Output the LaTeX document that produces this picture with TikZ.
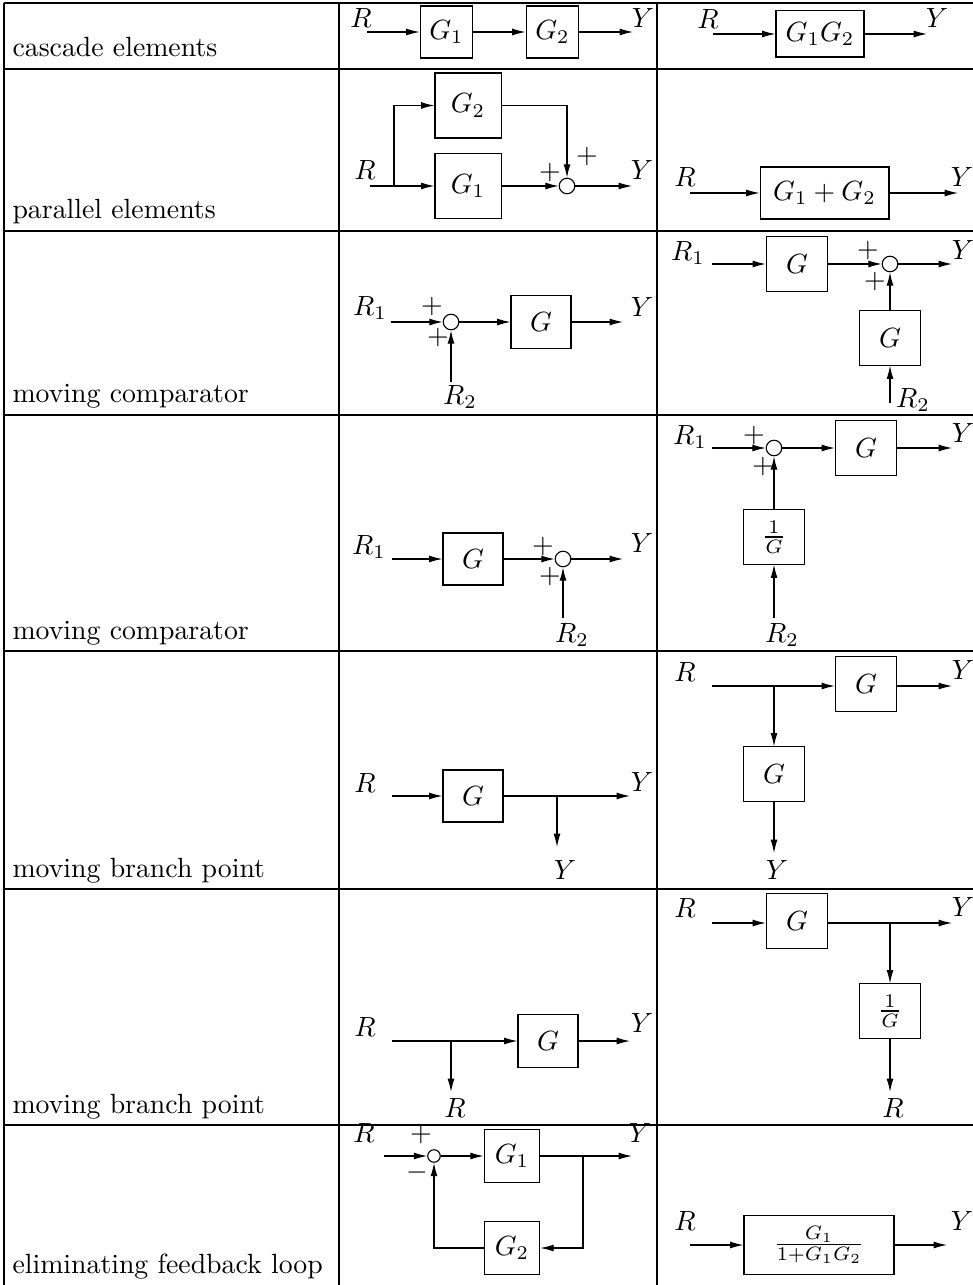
\documentclass[tikz,border=0pt]{standalone}
\usepackage{amsmath}
\usepackage{tikz}
\usetikzlibrary{arrows.meta}
\tikzset{blk/.style = {draw, minimum width=22pt, minimum height=19.5pt, inner sep=0pt}}
\tikzset{sumj/.style = {draw, circle, minimum size=5.6pt, inner sep=0pt}}
\tikzset{arr/.style = {-{Latex[length=4.8pt,width=2.5pt]}}}
\tikzset{grid/.style = {line width=1pt}}
\tikzset{rowtext/.style = {anchor=base west, inner sep=0pt}}

\begin{document}
\begin{tikzpicture}[x=0.36pt, y=-0.36pt]
  \useasboundingbox (0,0) rectangle (973,1285);
  % table
  \foreach \yy in {3,69,231,415,651,889,1125}
    \draw[grid] (4,\yy) -- (973,\yy);
  \foreach \xx in {4,339,657}
    \draw[grid] (\xx,3) -- (\xx,1285);
  \node[rowtext] (t1) at (12,57) {cascade elements};
  \node[rowtext] (t2) at (12,219) {parallel elements};
  \node[rowtext] (t3) at (12,403) {moving comparator};
  \node[rowtext] (t4) at (12,639) {moving comparator};
  \node[rowtext] (t5) at (12,877) {moving branch point};
  \node[rowtext] (t6) at (12,1113) {moving branch point};
  \node[rowtext] (t7) at (12,1273) {eliminating feedback loop};

  % row 1
  \coordinate (a1in) at (367,32);
  \coordinate (a1out) at (633,32);
  \node[blk, minimum width=19pt, minimum height=18.7pt] (a1g1) at (446.5,32) {$G_1$};
  \node[blk, minimum width=19pt, minimum height=18.7pt] (a1g2) at (552.5,32) {$G_2$};
  \node (a1r) at (361,18) {$R$};
  \node (a1y) at (643,18) {$Y$};
  \draw[arr] (a1in) -- (a1g1);
  \draw[arr] (a1g1) -- (a1g2);
  \draw[arr] (a1g2) -- (a1out);
  \coordinate (b1in) at (713,34);
  \coordinate (b1out) at (927,34);
  \node[blk, minimum width=31.7pt, minimum height=16.6pt] (b1g) at (820,34) {$G_1G_2$};
  \node (b1r) at (708,19) {$R$};
  \node (b1y) at (937,18) {$Y$};
  \draw[arr] (b1in) -- (b1g);
  \draw[arr] (b1g) -- (b1out);

  % row 2
  \coordinate (a2in) at (370,186);
  \coordinate (a2br) at (394,186);
  \coordinate (a2out) at (632,186);
  \node[blk, minimum width=23.8pt, minimum height=23.4pt] (a2g2) at (468,105.5) {$G_2$};
  \node[blk, minimum width=23.8pt, minimum height=23.4pt] (a2g1) at (468,186) {$G_1$};
  \node[sumj] (a2s) at (567,186) {};
  \node (a2r) at (365,170) {$R$};
  \node (a2y) at (642,170) {$Y$};
  \node (a2p1) at (550,173) {$+$};
  \node (a2p2) at (587,157) {$+$};
  \draw[arr] (a2in) -- (a2g1);
  \draw[arr] (a2br) |- (a2g2);
  \draw[arr] (a2g1) -- (a2s);
  \draw[arr] (a2g2) -| (a2s);
  \draw[arr] (a2s) -- (a2out);
  \coordinate (b2in) at (690,193);
  \coordinate (b2out) at (958,193);
  \node[blk, minimum width=46.4pt, minimum height=18.7pt] (b2g) at (824.5,193) {$G_1+G_2$};
  \node (b2r) at (685,177) {$R$};
  \node (b2y) at (962,177) {$Y$};
  \draw[arr] (b2in) -- (b2g);
  \draw[arr] (b2g) -- (b2out);

  % row 3
  \coordinate (a3in) at (391,322);
  \coordinate (a3r2) at (451,382);
  \coordinate (a3out) at (623,322);
  \node[sumj] (a3s) at (451,322) {};
  \node[blk, minimum width=21.6pt, minimum height=19pt] (a3g) at (541,322) {$G$};
  \node (a3r) at (370,308) {$R_1$};
  \node (a3rr) at (460,397) {$R_2$};
  \node (a3y) at (642,307) {$Y$};
  \node (a3p1) at (432,307) {$+$};
  \node (a3p2) at (438,338) {$+$};
  \draw[arr] (a3in) -- (a3s);
  \draw[arr] (a3r2) -- (a3s);
  \draw[arr] (a3s) -- (a3g);
  \draw[arr] (a3g) -- (a3out);
  \coordinate (b3in) at (712,264);
  \coordinate (b3r2) at (890,403);
  \coordinate (b3out) at (952,264);
  \node[blk] (b3g) at (797,264) {$G$};
  \node[sumj] (b3s) at (890,264) {};
  \node[blk] (b3h) at (890,338) {$G$};
  \node (b3r) at (688,253) {$R_1$};
  \node (b3rr) at (913,400) {$R_2$};
  \node (b3y) at (963,250) {$Y$};
  \node (b3p1) at (868,251) {$+$};
  \node (b3p2) at (875,282) {$+$};
  \draw[arr] (b3in) -- (b3g);
  \draw[arr] (b3g) -- (b3s);
  \draw[arr] (b3s) -- (b3out);
  \draw[arr] (b3h) -- (b3s);
  \draw[arr] (b3r2) -- (b3h);

  % row 4
  \coordinate (a4in) at (392,559);
  \coordinate (a4r2) at (563,618);
  \coordinate (a4out) at (623,559);
  \node[blk, minimum width=21.6pt, minimum height=18.7pt] (a4g) at (473,559) {$G$};
  \node[sumj] (a4s) at (563,559) {};
  \node (a4r) at (369,547) {$R_1$};
  \node (a4rr) at (572,635) {$R_2$};
  \node (a4y) at (642,543) {$Y$};
  \node (a4p1) at (543,547) {$+$};
  \node (a4p2) at (550,577) {$+$};
  \draw[arr] (a4in) -- (a4g);
  \draw[arr] (a4g) -- (a4s);
  \draw[arr] (a4r2) -- (a4s);
  \draw[arr] (a4s) -- (a4out);
  \coordinate (b4in) at (712,448);
  \coordinate (b4r2) at (774,618);
  \coordinate (b4out) at (952,448);
  \node[sumj] (b4s) at (774,448) {};
  \node[blk] (b4g) at (866,448) {$G$};
  \node[blk] (b4h) at (774,537) {$\frac{1}{G}$};
  \node (b4r) at (690,437) {$R_1$};
  \node (b4rr) at (782,635) {$R_2$};
  \node (b4y) at (963,433) {$Y$};
  \node (b4p1) at (754,436) {$+$};
  \node (b4p2) at (763,467) {$+$};
  \draw[arr] (b4in) -- (b4s);
  \draw[arr] (b4s) -- (b4g);
  \draw[arr] (b4g) -- (b4out);
  \draw[arr] (b4h) -- (b4s);
  \draw[arr] (b4r2) -- (b4h);

  % row 5
  \coordinate (a5in) at (392,796);
  \coordinate (a5br) at (557,796);
  \coordinate (a5dn) at (557,847);
  \coordinate (a5out) at (630,796);
  \node[blk, minimum width=21.6pt, minimum height=18.7pt] (a5g) at (473,796) {$G$};
  \node (a5r) at (365,783) {$R$};
  \node (a5y) at (642,782) {$Y$};
  \node (a5yy) at (565,870) {$Y$};
  \draw[arr] (a5in) -- (a5g);
  \draw[arr] (a5g) -- (a5out);
  \draw[arr] (a5br) -- (a5dn);
  \coordinate (b5in) at (712,686);
  \coordinate (b5br) at (774,686);
  \coordinate (b5dn) at (774,853);
  \coordinate (b5out) at (952,686);
  \node[blk] (b5g) at (866,684) {$G$};
  \node[blk] (b5h) at (774,774) {$G$};
  \node (b5r) at (685,672) {$R$};
  \node (b5y) at (963,670) {$Y$};
  \node (b5yy) at (777,870) {$Y$};
  \draw[arr] (b5in) -- (b5in -| b5g.west);
  \draw[arr] (b5out -| b5g.east) -- (b5out);
  \draw[arr] (b5br) -- (b5h);
  \draw[arr] (b5h) -- (b5dn);

  % row 6
  \coordinate (a6in) at (392,1041);
  \coordinate (a6br) at (451,1041);
  \coordinate (a6dn) at (451,1092);
  \coordinate (a6out) at (630,1041);
  \node[blk, minimum width=21.6pt, minimum height=19pt] (a6g) at (548,1041) {$G$};
  \node (a6r) at (365,1027) {$R$};
  \node (a6y) at (642,1023) {$Y$};
  \node (a6rr) at (455,1108) {$R$};
  \draw[arr] (a6in) -- (a6g);
  \draw[arr] (a6g) -- (a6out);
  \draw[arr] (a6br) -- (a6dn);
  \coordinate (b6in) at (712,923);
  \coordinate (b6br) at (890,923);
  \coordinate (b6dn) at (890,1092);
  \coordinate (b6out) at (952,923);
  \node[blk] (b6g) at (797,921) {$G$};
  \node[blk] (b6h) at (890,1011) {$\frac{1}{G}$};
  \node (b6r) at (685,908) {$R$};
  \node (b6y) at (963,907) {$Y$};
  \node (b6rr) at (893,1108) {$R$};
  \draw[arr] (b6in) -- (b6in -| b6g.west);
  \draw[arr] (b6out -| b6g.east) -- (b6out);
  \draw[arr] (b6br) -- (b6h);
  \draw[arr] (b6h) -- (b6dn);

  % row 7
  \coordinate (a7in) at (384,1156);
  \coordinate (a7br) at (583,1156);
  \coordinate (a7out) at (632,1156);
  \node[sumj, minimum size=4.5pt] (a7s) at (434,1156) {};
  \node[blk, minimum width=20pt, minimum height=19pt] (a7g1) at (512,1156) {$G_1$};
  \node[blk, minimum width=20pt, minimum height=19pt] (a7g2) at (512,1248) {$G_2$};
  \node (a7r) at (364,1133) {$R$};
  \node (a7y) at (640,1133) {$Y$};
  \node (a7p) at (421,1135) {$+$};
  \node (a7m) at (417,1173) {$-$};
  \draw[arr] (a7in) -- (a7s);
  \draw[arr] (a7s) -- (a7g1);
  \draw[arr] (a7g1) -- (a7out);
  \draw[arr] (a7br) |- (a7g2);
  \draw[arr] (a7g2) -| (a7s);
  \coordinate (b7in) at (690,1245);
  \coordinate (b7out) at (947,1245);
  \node[blk, minimum width=54pt, minimum height=21pt] (b7g) at (819,1245) {$\frac{G_1}{1+G_1G_2}$};
  \node (b7r) at (685,1221) {$R$};
  \node (b7y) at (962,1221) {$Y$};
  \draw[arr] (b7in) -- (b7g);
  \draw[arr] (b7g) -- (b7out);
\end{tikzpicture}
\end{document}
